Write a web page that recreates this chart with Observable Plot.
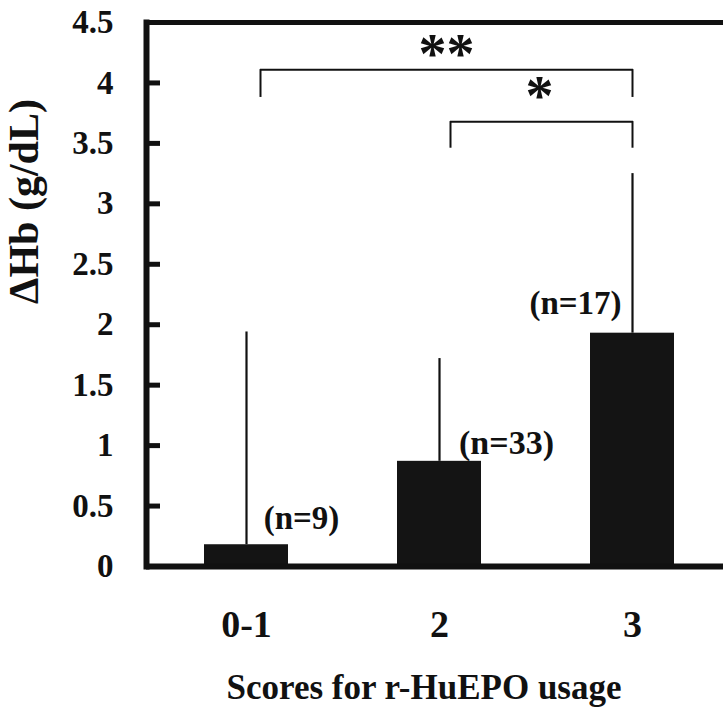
<!DOCTYPE html>
<html>
<head>
<meta charset="utf-8">
<script src="https://cdn.jsdelivr.net/npm/d3@7"></script>
<script src="https://cdn.jsdelivr.net/npm/@observablehq/plot@0.6"></script>
<style>
  html, body { margin: 0; padding: 0; background: #fff; }
  #chart svg { display: block; }
</style>
</head>
<body>
<div id="chart"></div>
<script>
// ---- data ----
const categories = ["0-1", "2", "3"];
const meanValues = [0.18, 0.87, 1.93];
const upperValues = [1.94, 1.72, 3.25];
const nLabels = ["(n=9)", "(n=33)", "(n=17)"];
const yTicks = [0, 0.5, 1, 1.5, 2, 2.5, 3, 3.5, 4, 4.5];
const compFrom = ["0-1", "2"];
const compTo = ["3", "3"];
const compTop = [4.11, 3.68];
const compBottom = [3.88, 3.46];
const compStars = ["**", "*"];
const xTitle = "Scores for r-HuEPO usage";
const yTitle = "ΔHb (g/dL)";

const bars = categories.map((c, i) => ({cat: c, mean: meanValues[i], upper: upperValues[i], n: nLabels[i]}));
const comps = compFrom.map((f, i) => ({from: f, to: compTo[i], top: compTop[i], bottom: compBottom[i], stars: compStars[i]}));

// ---- layout ----
const W = 723, H = 711;
const mL = 146, mT = 22, mB = 145;
const xR = [146, 731], pIn = 0.566, pOut = 0.295;
const step = (xR[1] - xR[0]) / (categories.length - pIn + 2 * pOut);
const bw = step * (1 - pIn);
const font = "'Liberation Serif', 'Times New Roman', serif";
const ink = "#111";

const chart = Plot.plot({
  width: W,
  height: H,
  marginLeft: mL,
  marginRight: 0,
  marginTop: mT,
  marginBottom: mB,
  style: {fontFamily: font, fontWeight: "bold", background: "#fff", color: ink},
  x: {type: "band", domain: categories, range: xR, paddingInner: pIn, paddingOuter: pOut, align: 0.5},
  y: {domain: [0, 4.5]},
  marks: [
    Plot.barY(bars, {x: "cat", y: "mean", fill: "#141414"}),
    Plot.ruleX(bars, {x: "cat", y1: "mean", y2: "upper", stroke: ink, strokeWidth: 2.2}),
    // frame
    Plot.ruleY([0], {stroke: ink, strokeWidth: 6}),
    Plot.ruleY([4.5], {stroke: ink, strokeWidth: 5}),
    Plot.frame({anchor: "left", stroke: ink, strokeWidth: 6}),
    // inward y ticks
    Plot.axisY({ticks: yTicks, tickSize: 14, dx: 14, tickFormat: () => "", label: null, stroke: ink, strokeWidth: 5}),
    Plot.axisY({ticks: yTicks, tickSize: 0, tickPadding: 33, tickFormat: d => String(d), label: null, fontSize: 33, fontWeight: "bold", fill: ink}),
    Plot.axisX({tickSize: 0, tickPadding: 44, label: null, fontSize: 38, fontWeight: "bold", fill: ink}),
    // n labels
    Plot.text(bars.slice(0, 1), {x: "cat", y: "mean", text: "n", dx: 55, dy: -16, lineAnchor: "bottom", fontSize: 33, fontWeight: "bold", fill: ink}),
    Plot.text(bars.slice(1, 2), {x: "cat", y: "mean", text: "n", dx: 67, dy: -7, lineAnchor: "bottom", fontSize: 34, fontWeight: "bold", fill: ink}),
    Plot.text(bars.slice(2, 3), {x: "cat", y: "mean", text: "n", dx: -57, dy: -19, lineAnchor: "bottom", fontSize: 33, fontWeight: "bold", fill: ink}),
    // significance brackets
    Plot.ruleX(comps.slice(0, 1), {x: "from", y1: "bottom", y2: "top", dx: 14, stroke: ink, strokeWidth: 2}),
    Plot.ruleX(comps.slice(1, 2), {x: "from", y1: "bottom", y2: "top", dx: 11, stroke: ink, strokeWidth: 2}),
    Plot.ruleX(comps, {x: "to", y1: "bottom", y2: "top", stroke: ink, strokeWidth: 2}),
    Plot.ruleY(comps.slice(0, 1), {x1: "from", x2: "to", y: "top", insetLeft: bw / 2 + 14, insetRight: bw / 2 - 1, stroke: ink, strokeWidth: 2}),
    Plot.ruleY(comps.slice(1, 2), {x1: "from", x2: "to", y: "top", insetLeft: bw / 2 + 11, insetRight: bw / 2 - 1, stroke: ink, strokeWidth: 2}),
    Plot.text(comps.slice(0, 1), {x: "to", y: "top", text: "stars", dx: -186, dy: 3, lineAnchor: "bottom", fontSize: 56, fontWeight: "bold", fill: ink}),
    Plot.text(comps.slice(1, 2), {x: "to", y: "top", text: "stars", dx: -93, dy: -7, lineAnchor: "bottom", fontSize: 56, fontWeight: "bold", fill: ink}),
    // axis titles
    Plot.text([xTitle], {frameAnchor: "bottom", textAnchor: "middle", dx: -11, dy: 132, lineAnchor: "bottom", fontSize: 35, fontWeight: "bold", fill: ink}),
    Plot.text([yTitle], {frameAnchor: "left", textAnchor: "middle", rotate: -90, dx: -109, dy: -93, lineAnchor: "bottom", fontSize: 42, fontWeight: "bold", fill: ink})
  ]
});
document.getElementById("chart").appendChild(chart);
</script>
</body>
</html>
